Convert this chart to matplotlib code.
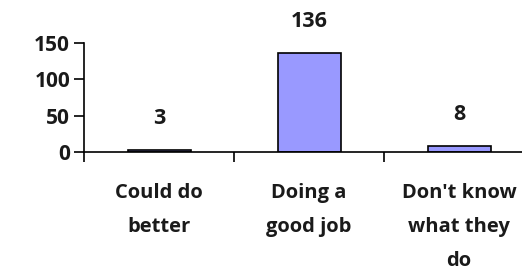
import matplotlib.pyplot as plt

categories = ["Could do\nbetter", "Doing a\ngood job", "Don't know\nwhat they\ndo"]
values = [3, 136, 8]
yticks = [0, 50, 100, 150]

plt.rcParams['font.family'] = ['Open Sans', 'DejaVu Sans']

fig = plt.figure(figsize=(5.22, 2.78), dpi=100)
ax = fig.add_axes([0.161, 0.453, 0.862, 0.392])

x = [i + 0.5 for i in range(len(values))]
bars = ax.bar(x, values, width=0.42, color='#9999ff', edgecolor='black', linewidth=1.2)

for b, v in zip(bars, values):
    ax.annotate(str(v), (b.get_x() + b.get_width() / 2, v), xytext=(0, 15),
                textcoords='offset points', ha='center', va='bottom',
                fontsize=15.5, fontweight='bold', color='#1a1a1a')

ax.set_xlim(0, 3)
ax.set_ylim(0, 150)
ax.set_yticks(yticks)
ax.set_xticks([0, 1, 2, 3])
ax.set_xticklabels([])
ax.set_xticks(x, minor=True)
ax.set_xticklabels(categories, minor=True, fontsize=14.5, fontweight='bold',
                   color='#1a1a1a', linespacing=1.95, va='top')
ax.tick_params(axis='x', which='minor', length=0, pad=22)
ax.tick_params(axis='x', which='major', direction='out', length=7, width=1.2)
ax.tick_params(axis='y', direction='out', length=7, width=1.2, labelsize=15, pad=3,
               labelcolor='#1a1a1a')
for lab in ax.get_yticklabels():
    lab.set_fontweight('bold')

for s in ['top', 'right']:
    ax.spines[s].set_visible(False)
for s in ['left', 'bottom']:
    ax.spines[s].set_linewidth(1.2)

fig.savefig('out.png', dpi=100)
